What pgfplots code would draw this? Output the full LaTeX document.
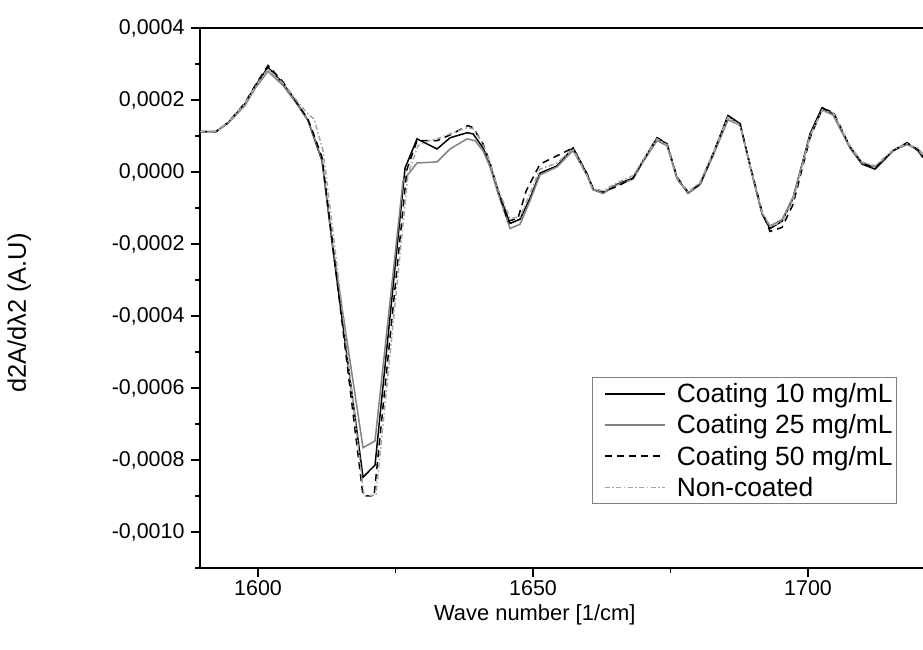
\documentclass[border=0pt]{standalone}
\usepackage{fontspec}
\setmainfont{Liberation Sans}
\usepackage{pgfplots}
\pgfplotsset{compat=1.18}
\definecolor{midgray}{RGB}{130,130,130}
\definecolor{lightgray2}{RGB}{165,165,165}
\begin{document}
\begin{tikzpicture}[x=1bp,y=1bp]
\begin{axis}[
  at={(200bp,82bp)}, anchor=south west,
  scale only axis, width=723bp, height=540bp,
  xmin=1589.45, xmax=1720.9, ymin=-0.0011, ymax=0.0004,
  axis lines*=left,
  axis line style={line width=1.6bp},
  xtick={1600,1650,1700}, minor xtick={1625,1675},
  ytick={-0.001,-0.0008,-0.0006,-0.0004,-0.0002,0,0.0002,0.0004},
  minor ytick={-0.0011,-0.0009,-0.0007,-0.0005,-0.0003,-0.0001,0.0001,0.0003},
  tick align=outside, major tick length=9bp, minor tick length=5bp,
  every tick/.style={line width=1.3bp, black},
  scaled y ticks=false,
  scaled x ticks=false,
  tick label style={font=\fontsize{21.5}{25}\selectfont},
  /pgf/number format/assume math mode=true,
  xticklabel style={/pgf/number format/.cd, fixed, 1000 sep={}},
  yticklabel style={xshift=-3bp, /pgf/number format/.cd, fixed, fixed zerofill, precision=4, use comma},
  xlabel={Wave number [1/cm]},
  ylabel={d2A/dλ2 (A.U)},
  every axis x label/.style={at={(axis description cs:0.463,-0.062)}, anchor=north, font=\fontsize{22}{26}\selectfont},
  every axis y label/.style={at={(axis description cs:-0.25,0.472)}, anchor=center, rotate=90, font=\fontsize{25.5}{30}\selectfont},
  legend style={at={(rel axis cs:0.964,0.1185)}, anchor=south east, draw=gray, line width=0.8bp,
    font=\fontsize{26.5}{30}\selectfont, inner xsep=2bp, inner ysep=4bp, row sep=6.5bp, legend cell align=left},
  legend image code/.code={\path[draw=none] (0bp,0bp) -- (80bp,0bp); \draw[#1] (10bp,0bp) -- (70bp,0bp);},
  after end axis/.code={\draw[line width=1.6bp] (rel axis cs:0,1) -- (rel axis cs:1,1);},
]
\addplot[black, line width=1.5bp] table {
1589.45 0.000112
1592.36 0.000112
1594.55 0.000137
1597.64 0.000190
1599.45 0.000238
1601.82 0.000291
1604.55 0.000246
1606.73 0.000199
1609.09 0.000143
1610.00 0.000103
1611.64 0.000031
1613.64 -0.000218
1619.09 -0.000848
1621.27 -0.000814
1626.73 0.000011
1628.91 0.000092
1632.55 0.000064
1634.91 0.000095
1638.00 0.000109
1639.09 0.000106
1640.91 0.000067
1642.18 0.000022
1643.64 -0.000053
1645.82 -0.000143
1647.64 -0.000131
1649.45 -0.000073
1651.27 -0.000003
1654.36 0.000017
1657.27 0.000067
1659.82 -0.000006
1660.91 -0.000048
1662.73 -0.000059
1665.27 -0.000034
1668.18 -0.000017
1670.00 0.000031
1672.55 0.000095
1674.36 0.000078
1676.18 -0.000017
1678.18 -0.000059
1680.36 -0.000034
1682.73 0.000050
1685.45 0.000157
1687.64 0.000134
1689.45 0.000017
1691.64 -0.000117
1693.09 -0.000157
1695.27 -0.000137
1697.27 -0.000073
1700.36 0.000106
1702.55 0.000179
1704.55 0.000162
1707.64 0.000067
1709.82 0.000022
1712.18 0.000008
1715.45 0.000059
1718.00 0.000081
1720.00 0.000059
1720.90 0.000040
};
\addlegendentry{Coating 10 mg/mL}
\addplot[midgray, line width=1.5bp] table {
1589.45 0.000112
1592.36 0.000112
1594.55 0.000135
1597.64 0.000185
1599.45 0.000232
1601.82 0.000280
1604.55 0.000240
1606.73 0.000196
1609.09 0.000143
1610.00 0.000106
1611.64 0.000034
1613.64 -0.000210
1619.09 -0.000766
1621.27 -0.000747
1626.36 -0.000025
1628.91 0.000025
1632.55 0.000028
1634.91 0.000064
1638.00 0.000092
1639.45 0.000087
1640.91 0.000059
1642.18 0.000014
1643.64 -0.000060
1645.82 -0.000157
1647.64 -0.000145
1649.45 -0.000080
1651.27 -0.000008
1654.36 0.000014
1657.27 0.000060
1659.82 -0.000010
1660.91 -0.000050
1662.73 -0.000059
1665.27 -0.000036
1668.18 -0.000020
1670.00 0.000028
1672.55 0.000087
1674.36 0.000073
1676.18 -0.000020
1678.18 -0.000059
1680.36 -0.000036
1682.73 0.000045
1685.45 0.000145
1687.64 0.000130
1689.45 0.000017
1691.64 -0.000115
1693.09 -0.000150
1695.27 -0.000132
1697.27 -0.000070
1700.36 0.000100
1702.55 0.000172
1704.55 0.000158
1707.64 0.000067
1709.82 0.000025
1712.18 0.000014
1715.45 0.000059
1718.00 0.000076
1720.00 0.000062
1720.90 0.000045
};
\addlegendentry{Coating 25 mg/mL}
\addplot[black, line width=1.5bp, dash pattern=on 7bp off 5bp] table {
1589.45 0.000112
1592.36 0.000112
1594.55 0.000137
1597.64 0.000192
1599.45 0.000240
1601.82 0.000296
1604.55 0.000250
1606.73 0.000200
1609.09 0.000146
1610.00 0.000110
1611.64 0.000040
1613.64 -0.000210
1619.09 -0.000900
1621.09 -0.000900
1627.09 0.000008
1628.91 0.000087
1632.55 0.000087
1634.91 0.000103
1638.18 0.000129
1639.09 0.000123
1640.91 0.000078
1642.18 0.000025
1643.64 -0.000050
1645.45 -0.000137
1647.27 -0.000128
1648.73 -0.000053
1651.27 0.000022
1654.36 0.000045
1657.27 0.000067
1659.82 -0.000006
1660.91 -0.000045
1662.73 -0.000055
1665.27 -0.000040
1668.18 -0.000017
1670.00 0.000031
1672.55 0.000095
1674.36 0.000078
1676.18 -0.000014
1678.18 -0.000056
1680.36 -0.000034
1682.73 0.000050
1685.45 0.000155
1687.64 0.000134
1689.45 0.000020
1691.64 -0.000110
1693.09 -0.000165
1695.27 -0.000154
1697.27 -0.000090
1700.36 0.000095
1702.55 0.000175
1704.55 0.000168
1707.64 0.000070
1709.82 0.000025
1712.18 0.000011
1715.45 0.000059
1718.00 0.000081
1720.00 0.000062
1720.90 0.000045
};
\addlegendentry{Coating 50 mg/mL}
\addplot[lightgray2, line width=1.5bp, dash pattern=on 5bp off 2.5bp on 1.5bp off 2.5bp] table {
1589.45 0.000112
1592.36 0.000112
1594.55 0.000137
1597.64 0.000190
1599.45 0.000236
1601.82 0.000286
1604.55 0.000246
1606.73 0.000204
1609.09 0.000160
1610.18 0.000148
1611.82 0.000059
1613.82 -0.000190
1619.27 -0.000900
1621.45 -0.000897
1627.27 -0.000006
1629.09 0.000073
1631.09 0.000087
1632.55 0.000092
1634.91 0.000106
1638.00 0.000123
1639.09 0.000120
1640.91 0.000078
1642.18 0.000025
1643.64 -0.000048
1645.82 -0.000128
1647.64 -0.000125
1649.45 -0.000060
1651.27 0.000008
1654.36 0.000025
1657.27 0.000064
1659.82 -0.000010
1660.91 -0.000050
1662.73 -0.000052
1665.27 -0.000030
1668.18 -0.000010
1670.00 0.000034
1672.55 0.000092
1674.36 0.000075
1676.18 -0.000017
1678.18 -0.000056
1680.36 -0.000028
1682.73 0.000053
1685.45 0.000152
1687.64 0.000130
1689.45 0.000020
1691.64 -0.000112
1693.09 -0.000150
1695.27 -0.000140
1697.27 -0.000078
1700.36 0.000100
1702.55 0.000170
1704.55 0.000165
1707.64 0.000072
1709.82 0.000028
1712.18 0.000017
1715.45 0.000062
1718.00 0.000078
1720.00 0.000066
1720.90 0.000050
};
\addlegendentry{Non-coated}
\end{axis}
\pgfresetboundingbox
\path[use as bounding box] (0,0) rectangle (923bp,650bp);
\end{tikzpicture}
\end{document}
